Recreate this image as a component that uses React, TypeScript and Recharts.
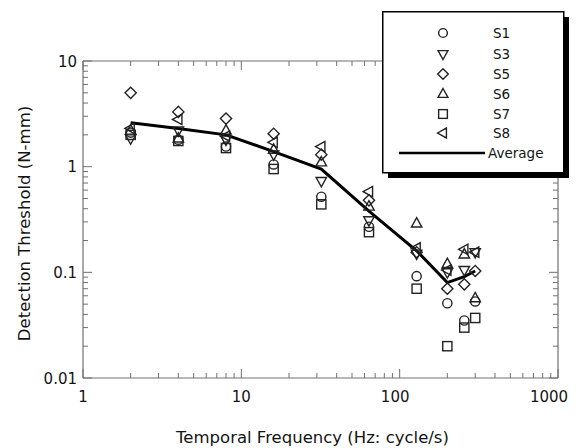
import React from 'react';
import { ScatterChart, Scatter, XAxis, YAxis, Legend, Label } from 'recharts';

// ---- data ----
const frequencies = [2, 4, 8, 16, 32, 64, 128, 200, 256, 300];
const s1 = [2.1, 1.8, 1.55, 1.05, 0.52, 0.27, 0.092, 0.051, 0.035, 0.053];
const s3 = [1.85, 2.2, 1.8, 1.3, 0.73, 0.31, 0.15, 0.1, 0.105, 0.155];
const s5 = [5.0, 3.3, 2.85, 2.05, 1.3, 0.48, 0.155, 0.07, 0.077, 0.103];
const s6 = [2.2, 1.85, 2.2, 1.45, 1.1, 0.42, 0.29, 0.12, 0.148, 0.057];
const s7 = [2.0, 1.75, 1.5, 0.95, 0.44, 0.24, 0.07, 0.02, 0.03, 0.037];
const s8 = [2.3, 2.8, 1.95, 1.7, 1.55, 0.58, 0.17, 0.105, 0.165, 0.155];
const average = [2.6, 2.3, 2.0, 1.39, 0.95, 0.38, 0.16, 0.08, 0.091, 0.103];

const seriesNames = ['S1', 'S3', 'S5', 'S6', 'S7', 'S8'];
const seriesValues = [s1, s3, s5, s6, s7, s8];
const seriesShapes = ['circle', 'down', 'diamond', 'up', 'square', 'left'];
const averageName = 'Average';

const xTicks = [1, 2, 3, 4, 5, 6, 7, 8, 9, 10, 20, 30, 40, 50, 60, 70, 80, 90, 100, 200, 300, 400, 500, 600, 700, 800, 900, 1000];
const yTicks = [0.01, 0.02, 0.03, 0.04, 0.05, 0.06, 0.07, 0.08, 0.09, 0.1, 0.2, 0.3, 0.4, 0.5, 0.6, 0.7, 0.8, 0.9, 1, 2, 3, 4, 5, 6, 7, 8, 9, 10];
const xLabels: Record<string, string> = { '1': '1', '10': '10', '100': '100', '1000': '1000' };
const yLabels: Record<string, string> = { '0.01': '0.01', '0.1': '0.1', '1': '1', '10': '10' };
const xTitle = 'Temporal Frequency (Hz: cycle/s)';
const yTitle = 'Detection Threshold (N-mm)';

// ---- style ----
const AXIS = '#707070';
const MARK = '#222';
const TEXT = '#141414';
const FONT = '"DejaVu Sans", Verdana, sans-serif';
const MAJOR = 9;
const MINOR = 5;

const toData = (vals: number[]) => frequencies.map((f, i) => ({ f, v: vals[i] }));

const isMajor = (v: number) => Math.abs(Math.log10(v) - Math.round(Math.log10(v))) < 1e-6;

function Marker({ kind, cx, cy, s = 1 }: { kind: string; cx: number; cy: number; s?: number }) {
  const common = { fill: 'none', stroke: MARK, strokeWidth: 1.4 };
  if (kind === 'circle') return <circle cx={cx} cy={cy} r={4.6 * s} {...common} />;
  if (kind === 'square') return <rect x={cx - 4.6 * s} y={cy - 4.6 * s} width={9.2 * s} height={9.2 * s} {...common} />;
  let pts: number[][] = [];
  if (kind === 'diamond') pts = [[0, -5.6], [5.6, 0], [0, 5.6], [-5.6, 0]];
  if (kind === 'up') pts = [[0, -5.8], [5.2, 3.6], [-5.2, 3.6]];
  if (kind === 'down') pts = [[0, 5.8], [5.2, -3.6], [-5.2, -3.6]];
  if (kind === 'left') pts = [[-5.8, 0], [3.6, -5.2], [3.6, 5.2]];
  return <polygon points={pts.map(([a, b]) => `${cx + a * s},${cy + b * s}`).join(' ')} {...common} strokeLinejoin="miter" />;
}

const makeShape = (kind: string) => (props: any) => <Marker kind={kind} cx={props.cx} cy={props.cy} />;

function BottomTick(props: any) {
  const { x, y, payload } = props;
  const v = payload.value;
  const major = isMajor(v);
  const lbl = xLabels[String(v)];
  const dx = lbl ? -Math.max(0, lbl.length - 2) * 4.5 : 0;
  return (
    <g>
      <line x1={x} x2={x} y1={y} y2={y - (major ? MAJOR : MINOR)} stroke={AXIS} strokeWidth={1} />
      {major && lbl ? (
        <text x={x + dx} y={y + 24} textAnchor="middle" fontFamily={FONT} fontSize={15} fill={TEXT}>{lbl}</text>
      ) : null}
    </g>
  );
}
function TopTick(props: any) {
  const { x, y, payload } = props;
  const major = isMajor(payload.value);
  return <line x1={x} x2={x} y1={y} y2={y + (major ? MAJOR : MINOR)} stroke={AXIS} strokeWidth={1} />;
}
function LeftTick(props: any) {
  const { x, y, payload } = props;
  const v = payload.value;
  const major = isMajor(v);
  const lbl = yLabels[String(v)];
  return (
    <g>
      <line x1={x} x2={x + (major ? MAJOR : MINOR)} y1={y} y2={y} stroke={AXIS} strokeWidth={1} />
      {major && lbl ? (
        <text x={x - 6} y={y + 5.5} textAnchor="end" fontFamily={FONT} fontSize={15} fill={TEXT}>{lbl}</text>
      ) : null}
    </g>
  );
}
function RightTick(props: any) {
  const { x, y, payload } = props;
  const major = isMajor(payload.value);
  return <line x1={x} x2={x - (major ? MAJOR : MINOR)} y1={y} y2={y} stroke={AXIS} strokeWidth={1} />;
}

function XTitle(props: any) {
  const vb = props.viewBox || { x: 83, y: 378, width: 475, height: 70 };
  return (
    <text x={vb.x + vb.width / 2 - 8} y={vb.y + 65} textAnchor="middle" fontFamily={FONT} fontSize={16.5} fill={TEXT}>{xTitle}</text>
  );
}
function YTitle(props: any) {
  const vb = props.viewBox || { x: 0, y: 61, width: 83, height: 317 };
  const cx = vb.x + 30;
  const cy = vb.y + vb.height / 2 + 4;
  return (
    <text x={cx} y={cy} transform={`rotate(-90 ${cx} ${cy})`} textAnchor="middle" fontFamily={FONT} fontSize={16.5} fill={TEXT}>{yTitle}</text>
  );
}

function LegendBox() {
  const w = 181;
  const h = 161;
  const sh = 6;
  const rows = [22, 43, 63, 83, 103, 122];
  return (
    <svg width={w + sh + 2} height={h + sh + 2} style={{ display: 'block' }}>
      <rect x={sh} y={sh} width={w} height={h} fill="#000" />
      <rect x={0.75} y={0.75} width={w} height={h} fill="#fff" stroke="#000" strokeWidth={1.5} />
      {seriesNames.map((n, i) => (
        <g key={n}>
          <Marker kind={seriesShapes[i]} cx={61} cy={rows[i]} s={0.95} />
          <text x={111} y={rows[i] + 5} fontFamily={FONT} fontSize={13.5} fill={TEXT}>{n}</text>
        </g>
      ))}
      <line x1={17} x2={103} y1={142} y2={142} stroke="#000" strokeWidth={2.5} />
      <text x={106} y={147} fontFamily={FONT} fontSize={13.5} fill={TEXT}>{averageName}</text>
    </svg>
  );
}

export default function App() {
  return (
    <div style={{ position: 'absolute', left: 0, top: 0, width: 580, height: 448, background: '#fff' }}>
      <ScatterChart width={580} height={448} margin={{ top: 60, right: 21, bottom: 0, left: 0 }}>
        <XAxis xAxisId="b" orientation="bottom" type="number" dataKey="f" scale="log" domain={[1, 1000]} allowDataOverflow
          ticks={xTicks} interval={0} tickSize={0} tickMargin={0} tick={BottomTick} height={70}
          axisLine={{ stroke: AXIS, strokeWidth: 1.2 }} tickLine={false}>
          <Label content={XTitle} />
        </XAxis>
        <XAxis xAxisId="t" orientation="top" type="number" dataKey="f" scale="log" domain={[1, 1000]} allowDataOverflow
          ticks={xTicks} interval={0} tickSize={0} tickMargin={0} tick={TopTick} height={1}
          axisLine={{ stroke: AXIS, strokeWidth: 1.2 }} tickLine={false} />
        <YAxis yAxisId="l" orientation="left" type="number" dataKey="v" scale="log" domain={[0.01, 10]} allowDataOverflow
          ticks={yTicks} interval={0} tickSize={0} tickMargin={0} tick={LeftTick} width={83}
          axisLine={{ stroke: AXIS, strokeWidth: 1.2 }} tickLine={false}>
          <Label content={YTitle} />
        </YAxis>
        <YAxis yAxisId="r" orientation="right" type="number" dataKey="v" scale="log" domain={[0.01, 10]} allowDataOverflow
          ticks={yTicks} interval={0} tickSize={0} tickMargin={0} tick={RightTick} width={1}
          axisLine={{ stroke: AXIS, strokeWidth: 1.2 }} tickLine={false} />
        <Scatter name={averageName} data={toData(average)} xAxisId="b" yAxisId="l"
          line={{ stroke: '#000', strokeWidth: 3 }} lineType="joint" shape={() => <g />} isAnimationActive={false} />
        {seriesNames.map((n, i) => (
          <Scatter key={n} name={n} data={toData(seriesValues[i])} xAxisId="b" yAxisId="l"
            shape={makeShape(seriesShapes[i])} isAnimationActive={false} />
        ))}
        <Legend layout="vertical" align="center" verticalAlign="middle" content={LegendBox}
          wrapperStyle={{ left: 382, top: 11, width: 'auto', height: 'auto' }} />
      </ScatterChart>
    </div>
  );
}
